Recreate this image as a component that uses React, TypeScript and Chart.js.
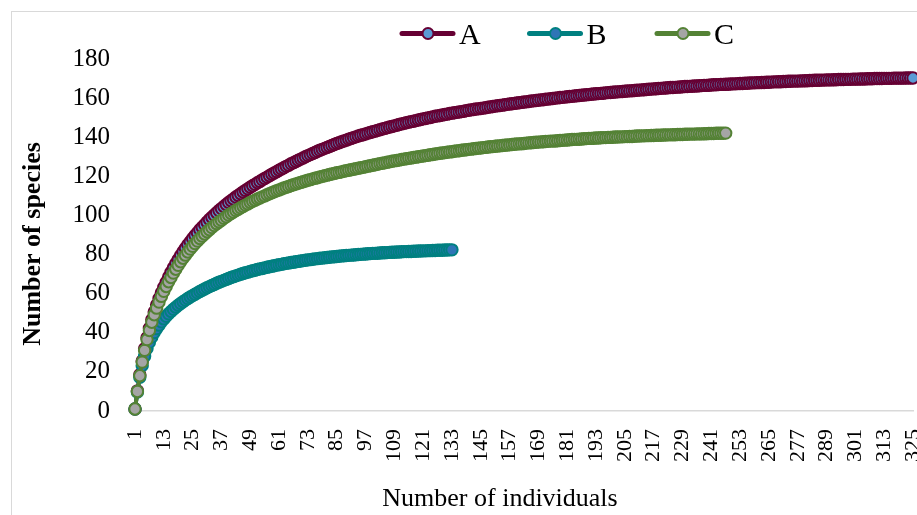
import React, { useEffect, useRef } from "react";
import { Chart, registerables } from "chart.js";

Chart.register(...registerables);

// ---------- data ----------
const categories: string[] = Array.from({ length: 325 }, (_, i) => String(i + 1));
const seriesNames = ["A", "B", "C"];
const xTitle = "Number of individuals";
const yTitle = "Number of species";
const yMin = 0;
const yMax = 180;
const yStep = 20;
const xLabelEvery = 12;

const seriesA = [
  1, 10.3, 18.5, 25.6, 31.8, 37.5, 42.3, 46.7, 50.6, 54.2,
  57.5, 60.5, 63.3, 65.9, 68.5, 70.9, 73.2, 75.4, 77.5, 79.5,
  81.4, 83.2, 85.0, 86.6, 88.2, 89.8, 91.2, 92.7, 94.0, 95.3,
  96.6, 97.9, 99.1, 100.2, 101.4, 102.5, 103.5, 104.6, 105.6, 106.6,
  107.5, 108.4, 109.4, 110.2, 111.1, 112.0, 112.8, 113.6, 114.4, 115.2,
  115.9, 116.7, 117.4, 118.2, 118.9, 119.6, 120.3, 121.1, 121.7, 122.4,
  123.1, 123.8, 124.4, 125.1, 125.7, 126.4, 127.0, 127.6, 128.2, 128.8,
  129.4, 130.0, 130.6, 131.1, 131.7, 132.2, 132.8, 133.3, 133.8, 134.3,
  134.8, 135.3, 135.8, 136.3, 136.8, 137.2, 137.7, 138.1, 138.5, 139.0,
  139.4, 139.8, 140.2, 140.6, 141.0, 141.3, 141.7, 142.1, 142.4, 142.8,
  143.1, 143.5, 143.8, 144.2, 144.5, 144.9, 145.2, 145.5, 145.8, 146.1,
  146.5, 146.8, 147.1, 147.4, 147.7, 148.0, 148.2, 148.5, 148.8, 149.1,
  149.4, 149.6, 149.9, 150.1, 150.4, 150.7, 150.9, 151.1, 151.4, 151.6,
  151.8, 152.1, 152.3, 152.5, 152.7, 152.9, 153.1, 153.3, 153.6, 153.8,
  154.0, 154.2, 154.4, 154.5, 154.7, 154.9, 155.1, 155.3, 155.5, 155.7,
  155.9, 156.1, 156.2, 156.4, 156.6, 156.8, 157.0, 157.1, 157.3, 157.5,
  157.6, 157.8, 158.0, 158.1, 158.3, 158.5, 158.6, 158.8, 158.9, 159.1,
  159.2, 159.4, 159.5, 159.7, 159.8, 160.0, 160.1, 160.3, 160.4, 160.5,
  160.7, 160.8, 160.9, 161.1, 161.2, 161.3, 161.5, 161.6, 161.7, 161.8,
  162.0, 162.1, 162.2, 162.3, 162.4, 162.5, 162.7, 162.8, 162.9, 163.0,
  163.1, 163.2, 163.3, 163.4, 163.5, 163.6, 163.7, 163.8, 163.9, 164.0,
  164.1, 164.2, 164.3, 164.4, 164.5, 164.6, 164.7, 164.8, 164.9, 165.0,
  165.1, 165.2, 165.3, 165.4, 165.4, 165.5, 165.6, 165.7, 165.8, 165.9,
  165.9, 166.0, 166.1, 166.2, 166.2, 166.3, 166.4, 166.5, 166.5, 166.6,
  166.7, 166.8, 166.8, 166.9, 167.0, 167.0, 167.1, 167.1, 167.2, 167.3,
  167.3, 167.4, 167.5, 167.5, 167.6, 167.6, 167.7, 167.8, 167.8, 167.9,
  167.9, 168.0, 168.0, 168.1, 168.1, 168.2, 168.3, 168.3, 168.4, 168.4,
  168.5, 168.5, 168.6, 168.6, 168.7, 168.7, 168.7, 168.8, 168.8, 168.9,
  168.9, 169.0, 169.0, 169.1, 169.1, 169.1, 169.2, 169.2, 169.3, 169.3,
  169.3, 169.4, 169.4, 169.5, 169.5, 169.5, 169.6, 169.6, 169.6, 169.7,
  169.7, 169.7, 169.8, 169.8, 169.8, 169.9, 169.9, 169.9, 170.0, 170.0,
  170.0, 170.0, 170.1, 170.1, 170.1, 170.1, 170.2, 170.2, 170.2, 170.2,
  170.2, 170.3, 170.3, 170.3, 170.3,
];

const seriesB = [
  1, 9.7, 17.2, 23.2, 28.0, 31.9, 35.1, 37.8, 40.1, 42.1,
  43.9, 45.6, 47.1, 48.4, 49.7, 50.9, 52.0, 53.1, 54.1, 55.0,
  55.9, 56.7, 57.5, 58.3, 59.0, 59.7, 60.4, 61.1, 61.8, 62.4,
  63.0, 63.6, 64.2, 64.7, 65.3, 65.8, 66.3, 66.8, 67.3, 67.8,
  68.3, 68.7, 69.1, 69.5, 69.9, 70.3, 70.7, 71.0, 71.4, 71.7,
  72.0, 72.4, 72.7, 72.9, 73.2, 73.5, 73.8, 74.0, 74.3, 74.6,
  74.8, 75.0, 75.3, 75.5, 75.7, 75.9, 76.1, 76.3, 76.5, 76.7,
  76.9, 77.1, 77.3, 77.4, 77.6, 77.8, 77.9, 78.1, 78.2, 78.4,
  78.5, 78.6, 78.8, 78.9, 79.0, 79.1, 79.3, 79.4, 79.5, 79.6,
  79.7, 79.8, 79.9, 80.0, 80.1, 80.2, 80.3, 80.4, 80.5, 80.6,
  80.6, 80.7, 80.8, 80.9, 80.9, 81.0, 81.1, 81.2, 81.2, 81.3,
  81.3, 81.4, 81.5, 81.5, 81.6, 81.6, 81.7, 81.7, 81.8, 81.8,
  81.9, 81.9, 82.0, 82.0, 82.1, 82.1, 82.2, 82.2, 82.2, 82.3,
  82.3, 82.4, 82.4,
];

const seriesC = [
  1, 10, 18, 25, 31, 36.5, 41.2, 45.4, 49.2, 52.6,
  55.7, 58.6, 61.2, 63.7, 66.1, 68.3, 70.5, 72.5, 74.5, 76.3,
  78.1, 79.7, 81.3, 82.8, 84.2, 85.6, 86.9, 88.2, 89.4, 90.5,
  91.7, 92.7, 93.8, 94.8, 95.8, 96.7, 97.6, 98.5, 99.3, 100.2,
  101.0, 101.7, 102.5, 103.2, 103.9, 104.6, 105.3, 105.9, 106.6, 107.2,
  107.8, 108.4, 108.9, 109.5, 110.0, 110.6, 111.1, 111.6, 112.1, 112.6,
  113.0, 113.5, 114.0, 114.4, 114.8, 115.3, 115.7, 116.1, 116.5, 116.9,
  117.2, 117.6, 118.0, 118.3, 118.7, 119.0, 119.3, 119.7, 120.0, 120.3,
  120.6, 120.9, 121.2, 121.5, 121.8, 122.0, 122.3, 122.6, 122.9, 123.1,
  123.4, 123.6, 123.9, 124.1, 124.4, 124.6, 124.9, 125.2, 125.4, 125.7,
  125.9, 126.2, 126.5, 126.7, 126.9, 127.2, 127.4, 127.7, 127.9, 128.1,
  128.3, 128.6, 128.8, 129.0, 129.2, 129.4, 129.6, 129.8, 130.0, 130.2,
  130.4, 130.6, 130.8, 131.0, 131.2, 131.4, 131.6, 131.8, 131.9, 132.1,
  132.3, 132.5, 132.6, 132.8, 133.0, 133.1, 133.3, 133.5, 133.6, 133.8,
  133.9, 134.1, 134.2, 134.4, 134.5, 134.7, 134.8, 135.0, 135.1, 135.2,
  135.4, 135.5, 135.6, 135.8, 135.9, 136.0, 136.1, 136.3, 136.4, 136.5,
  136.6, 136.7, 136.8, 137.0, 137.1, 137.2, 137.3, 137.4, 137.5, 137.6,
  137.7, 137.8, 137.9, 138.0, 138.0, 138.1, 138.2, 138.3, 138.4, 138.5,
  138.6, 138.7, 138.8, 138.9, 138.9, 139.0, 139.1, 139.2, 139.3, 139.4,
  139.4, 139.5, 139.6, 139.6, 139.7, 139.8, 139.8, 139.9, 139.9, 140.0,
  140.1, 140.1, 140.2, 140.2, 140.3, 140.3, 140.4, 140.4, 140.5, 140.6,
  140.6, 140.7, 140.7, 140.8, 140.8, 140.9, 140.9, 141.0, 141.0, 141.0,
  141.1, 141.1, 141.2, 141.2, 141.3, 141.3, 141.4, 141.4, 141.4, 141.5,
  141.5, 141.6, 141.6, 141.6, 141.7, 141.7, 141.7, 141.8, 141.8, 141.9,
  141.9, 141.9, 142.0, 142.0, 142.0, 142.0, 142.1,
];

// ---------- styles ----------
const FONT = '"Liberation Serif", "Times New Roman", serif';
const lineColors = ["#660033", "#008080", "#548235"];
const markerFills = ["#5B9BD5", "#2E75B6", "#A5A5A5"];
const drawOrder = [2, 1, 0]; // C on top, then B, then A

const overlayPlugin = {
  id: "overlay",
  afterDraw(chart: any) {
    const ctx: CanvasRenderingContext2D = chart.ctx;
    ctx.save();
    // legend
    seriesNames.forEach((name, i) => {
      const x0 = 400 + i * 127.5;
      const y = 33.5;
      ctx.beginPath();
      ctx.lineWidth = 5;
      ctx.lineCap = "round";
      ctx.strokeStyle = lineColors[i];
      ctx.moveTo(x0 + 2, y);
      ctx.lineTo(x0 + 53, y);
      ctx.stroke();
      ctx.beginPath();
      ctx.arc(x0 + 28, y, 5.5, 0, Math.PI * 2);
      ctx.fillStyle = markerFills[i];
      ctx.fill();
      ctx.lineWidth = 2;
      ctx.stroke();
      ctx.fillStyle = "#000";
      ctx.font = `30px ${FONT}`;
      ctx.textAlign = "left";
      ctx.textBaseline = "alphabetic";
      ctx.fillText(name, x0 + 59, 44);
    });
    // x title
    ctx.font = `26px ${FONT}`;
    ctx.textAlign = "center";
    ctx.textBaseline = "alphabetic";
    ctx.fillStyle = "#000";
    ctx.fillText(xTitle, 500, 506);
    // y title
    ctx.translate(40, 244);
    ctx.rotate(-Math.PI / 2);
    ctx.font = `bold 26px ${FONT}`;
    ctx.fillText(yTitle, 0, 0);
    ctx.restore();
  },
};

export default function App() {
  const ref = useRef<HTMLCanvasElement | null>(null);

  useEffect(() => {
    if (!ref.current) return;
    const seriesData = [seriesA, seriesB, seriesC];
    const chart = new Chart(ref.current, {
      type: "line",
      data: {
        labels: categories,
        datasets: seriesNames.map((name, i) => ({
          label: name,
          data: seriesData[i],
          borderColor: lineColors[i],
          backgroundColor: markerFills[i],
          borderWidth: 4,
          pointRadius: 5.7,
          pointHoverRadius: 5.7,
          pointBorderWidth: 2,
          pointBackgroundColor: markerFills[i],
          pointBorderColor: lineColors[i],
          tension: 0,
          clip: false as any,
          order: drawOrder[i],
        })),
      },
      options: {
        animation: false,
        responsive: false,
        devicePixelRatio: 1,
        events: [],
        layout: { padding: { left: 0, top: 59, right: 47, bottom: 0 } },
        plugins: {
          legend: { display: false },
          tooltip: { enabled: false },
          title: { display: false },
        },
        scales: {
          x: {
            type: "category",
            offset: false,
            grid: { display: false, drawTicks: false },
            border: { display: true, color: "#d9d9d9", width: 1.5 },
            ticks: {
              autoSkip: false,
              minRotation: 90,
              maxRotation: 90,
              padding: 18,
              color: "#000",
              font: { family: FONT, size: 22 },
              callback: function (this: any, value: any, index: number) {
                return index % xLabelEvery === 0 ? this.getLabelForValue(value) : null;
              },
            },
            afterFit: (s: any) => {
              s.height = 104;
            },
          },
          y: {
            min: yMin,
            max: yMax,
            grid: { display: false, drawTicks: false },
            border: { display: false },
            ticks: {
              stepSize: yStep,
              padding: 25,
              color: "#000",
              font: { family: FONT, size: 25 },
            },
            afterFit: (s: any) => {
              s.width = 135;
            },
          },
        },
      },
      plugins: [overlayPlugin],
    });
    return () => chart.destroy();
  }, []);

  return (
    <div
      style={{
        position: "fixed",
        left: 0,
        top: 0,
        width: 917,
        height: 515,
        overflow: "hidden",
        background: "#fff",
      }}
    >
      <div
        style={{
          position: "absolute",
          left: 11,
          top: 11,
          width: 1000,
          height: 600,
          border: "1px solid #d9d9d9",
        }}
      />
      <canvas
        ref={ref}
        width={960}
        height={515}
        style={{ position: "absolute", left: 0, top: 0, width: 960, height: 515 }}
      />
    </div>
  );
}
